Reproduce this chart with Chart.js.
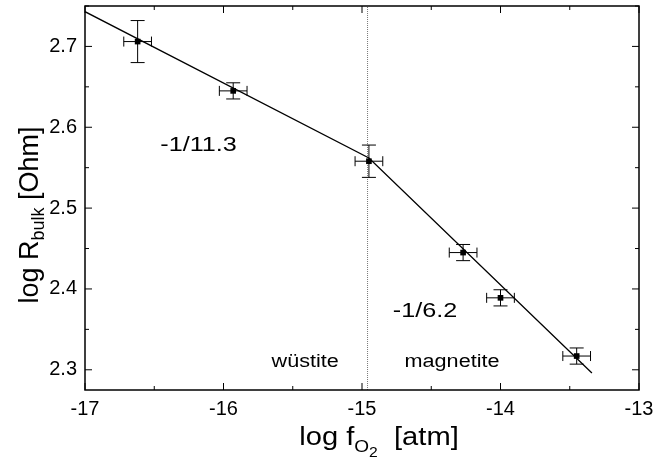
<!DOCTYPE html>
<html>
<head>
<meta charset="utf-8">
<script src="https://cdn.jsdelivr.net/npm/chart.js@4.4.0/dist/chart.umd.min.js"></script>
<style>
  html, body { margin: 0; padding: 0; background: #fff; }
  #wrap { width: 668px; height: 462px; }
</style>
</head>
<body>
<div id="wrap"><canvas id="chart" width="668" height="462"></canvas></div>
<script>
// measured points: log fO2 [atm] vs log R_bulk [Ohm]
const logFO2 = [-16.62, -15.93, -14.95, -14.27, -14.0, -13.45];
const logR = [2.706, 2.645, 2.558, 2.445, 2.389, 2.317];
const errX = [0.10, 0.10, 0.10, 0.10, 0.10, 0.10];
const errY = [0.026, 0.010, 0.020, 0.010, 0.010, 0.010];

// two fitted segments (slopes -1/11.3 and -1/6.2)
const fitX = [-17, -14.95, -13.34];
const fitY = [2.743, 2.562, 2.296];

// wüstite / magnetite boundary
const boundaryX = -14.96;

const xTicks = [-17, -16, -15, -14, -13];
const yTicks = [2.3, 2.4, 2.5, 2.6, 2.7];
const xMin = -17, xMax = -13;
const yMin = 2.275, yMax = 2.75;

// annotations: [text, x, y, font size]
const notes = [
  ["-1/11.3", -16.18, 2.578, 21],
  ["-1/6.2", -14.545, 2.373, 21],
  ["wüstite", -15.41, 2.309, 18],
  ["magnetite", -14.35, 2.309, 18]
];

const FONT = "'Liberation Sans', Arial, Helvetica, sans-serif";
const STRETCH = 1.2; // the scanned lettering is wider than Arial

function drawRich(ctx, parts, x, y, sx) {
  // parts: [text, size, dy]
  let w = 0;
  parts.forEach(p => {
    ctx.font = p[1] + "px " + FONT;
    w += ctx.measureText(p[0]).width;
  });
  ctx.save();
  ctx.translate(x, y);
  ctx.scale(sx, 1);
  let cx = -w / 2;
  parts.forEach(p => {
    ctx.font = p[1] + "px " + FONT;
    ctx.fillText(p[0], cx, p[2]);
    cx += ctx.measureText(p[0]).width;
  });
  ctx.restore();
}

const extras = {
  id: "extras",
  afterDatasetsDraw(chart) {
    const ctx = chart.ctx;
    const xs = chart.scales.x, ys = chart.scales.y;
    const a = chart.chartArea;
    ctx.save();
    ctx.strokeStyle = "#000";
    ctx.fillStyle = "#000";
    ctx.lineWidth = 1;

    // error bars
    logFO2.forEach((v, i) => {
      const px = xs.getPixelForValue(v);
      const py = ys.getPixelForValue(logR[i]);
      const x0 = xs.getPixelForValue(v - errX[i]);
      const x1 = xs.getPixelForValue(v + errX[i]);
      const y0 = ys.getPixelForValue(logR[i] + errY[i]);
      const y1 = ys.getPixelForValue(logR[i] - errY[i]);
      ctx.beginPath();
      ctx.moveTo(x0, py); ctx.lineTo(x1, py);
      ctx.moveTo(x0, py - 5); ctx.lineTo(x0, py + 5);
      ctx.moveTo(x1, py - 5); ctx.lineTo(x1, py + 5);
      ctx.moveTo(px, y0); ctx.lineTo(px, y1);
      ctx.moveTo(px - 7, y0); ctx.lineTo(px + 7, y0);
      ctx.moveTo(px - 7, y1); ctx.lineTo(px + 7, y1);
      ctx.stroke();
    });

    // frame
    ctx.lineWidth = 1.5;
    ctx.strokeRect(a.left, a.top, a.right - a.left, a.bottom - a.top);

    // inward ticks on all four sides
    ctx.lineWidth = 1;
    ctx.beginPath();
    for (let i = 0; i < xTicks.length; i++) {
      const p = xs.getPixelForValue(xTicks[i]);
      ctx.moveTo(p, a.bottom); ctx.lineTo(p, a.bottom - 7);
      ctx.moveTo(p, a.top); ctx.lineTo(p, a.top + 7);
      if (i < xTicks.length - 1) {
        const m = xs.getPixelForValue((xTicks[i] + xTicks[i + 1]) / 2);
        ctx.moveTo(m, a.bottom); ctx.lineTo(m, a.bottom - 4);
        ctx.moveTo(m, a.top); ctx.lineTo(m, a.top + 4);
      }
    }
    const yMinor = [yTicks[0] - 0.05].concat(yTicks.map(t => t + 0.05));
    yTicks.forEach(t => {
      const p = ys.getPixelForValue(t);
      ctx.moveTo(a.left, p); ctx.lineTo(a.left + 7, p);
      ctx.moveTo(a.right, p); ctx.lineTo(a.right - 7, p);
    });
    yMinor.forEach(t => {
      if (t < yMin || t > yMax) return;
      const p = ys.getPixelForValue(t);
      ctx.moveTo(a.left, p); ctx.lineTo(a.left + 4, p);
      ctx.moveTo(a.right, p); ctx.lineTo(a.right - 4, p);
    });
    ctx.stroke();

    // annotations
    ctx.textAlign = "left";
    ctx.textBaseline = "middle";
    notes.forEach(n => {
      drawRich(ctx, [[n[0], n[3], 0]], xs.getPixelForValue(n[1]), ys.getPixelForValue(n[2]), STRETCH);
    });

    // axis titles
    ctx.textBaseline = "alphabetic";
    drawRich(ctx, [["log f", 26, 0], ["O", 17, 7], ["2", 14, 12], ["  [atm]", 26, 0]], 379, 445, 1.12);

    ctx.save();
    ctx.translate(38, 215);
    ctx.rotate(-Math.PI / 2);
    drawRich(ctx, [["log R", 27, 0], ["bulk", 18, 6], [" [Ohm]", 27, 0]], 0, 0, 1);
    ctx.restore();

    ctx.restore();
  }
};

new Chart(document.getElementById("chart"), {
  type: "scatter",
  data: {
    datasets: [
      {
        data: logFO2.map((v, i) => ({ x: v, y: logR[i] })),
        pointStyle: "rect",
        pointRadius: 4,
        backgroundColor: "#000",
        borderWidth: 0,
        order: 0
      },
      {
        type: "line",
        data: fitX.map((v, i) => ({ x: v, y: fitY[i] })),
        borderColor: "#000",
        borderWidth: 1.3,
        pointRadius: 0,
        fill: false,
        tension: 0,
        order: 1
      },
      {
        type: "line",
        data: [{ x: boundaryX, y: yMin }, { x: boundaryX, y: yMax }],
        borderColor: "#777",
        borderWidth: 1,
        borderDash: [1, 1],
        pointRadius: 0,
        fill: false,
        order: 2
      }
    ]
  },
  options: {
    responsive: false,
    animation: false,
    devicePixelRatio: 1,
    layout: { padding: { top: 6, right: 29, left: 0, bottom: 0 } },
    plugins: { legend: { display: false }, tooltip: { enabled: false } },
    scales: {
      x: {
        type: "linear",
        min: xMin,
        max: xMax,
        afterBuildTicks: s => { s.ticks = xTicks.map(v => ({ value: v })); },
        afterFit: s => {
          s.height = 72;
          s.paddingLeft = 0;
          s.paddingRight = 0;
        },
        grid: { display: false, drawTicks: false },
        border: { display: false },
        ticks: {
          color: "#000",
          padding: 7,
          font: { family: FONT, size: 20 },
          maxRotation: 0,
          callback: v => String(v)
        }
      },
      y: {
        type: "linear",
        min: yMin,
        max: yMax,
        afterBuildTicks: s => { s.ticks = yTicks.map(v => ({ value: v })); },
        afterFit: s => {
          s.width = 85;
          s.paddingTop = 0;
          s.paddingBottom = 0;
        },
        grid: { display: false, drawTicks: false },
        border: { display: false },
        ticks: {
          color: "#000",
          padding: 8,
          font: { family: FONT, size: 20 },
          callback: v => v.toFixed(1)
        }
      }
    }
  },
  plugins: [extras]
});
</script>
</body>
</html>
